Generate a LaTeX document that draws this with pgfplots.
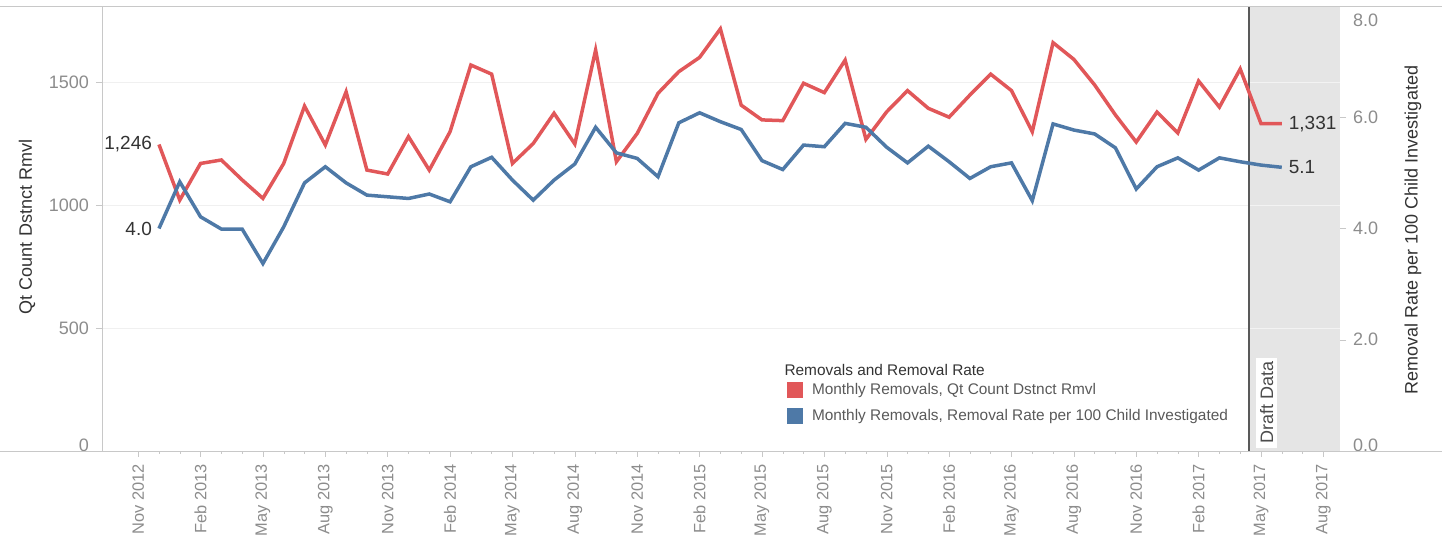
\documentclass[border=0pt]{standalone}
\usepackage{fontspec}
\setmainfont{Liberation Sans}
\usepackage{pgfplots}
\pgfplotsset{compat=1.18}
\usepackage{pgfplotstable}

\definecolor{tred}{HTML}{E15759}
\definecolor{tblue}{HTML}{4E79A7}
\definecolor{tickc}{HTML}{8C8C8C}
\definecolor{labc}{HTML}{333333}
\definecolor{draftc}{HTML}{E5E5E5}
\definecolor{linec}{HTML}{C8C8C8}

\pgfplotstableread{
k r b
0 1246 4.00
1 1020 4.84
2 1169 4.21
3 1183 3.99
4 1102 3.99
5 1027 3.37
6 1169 4.03
7 1402 4.82
8 1244 5.11
9 1460 4.82
10 1142 4.60
11 1126 4.57
12 1278 4.54
13 1142 4.62
14 1298 4.48
15 1569 5.11
16 1532 5.28
17 1169 4.87
18 1250 4.51
19 1373 4.87
20 1248 5.16
21 1630 5.82
22 1176 5.36
23 1291 5.26
24 1454 4.93
25 1542 5.90
26 1600 6.08
27 1716 5.92
28 1406 5.78
29 1346 5.22
30 1343 5.06
31 1495 5.50
32 1457 5.47
33 1589 5.89
34 1267 5.82
35 1379 5.46
36 1465 5.18
37 1393 5.48
38 1357 5.20
39 1447 4.90
40 1532 5.11
41 1465 5.18
42 1298 4.50
43 1660 5.88
44 1592 5.77
45 1488 5.70
46 1366 5.45
47 1256 4.71
48 1378 5.11
49 1293 5.27
50 1504 5.05
51 1398 5.27
52 1553 5.20
53 1331 5.14
54 1331 5.10
}\data

\begin{document}
\begin{tikzpicture}
\path[use as bounding box] (-51pt,-47.5pt) rectangle (670pt,225.5pt);
\begin{axis}[
  at={(0,0)}, anchor=south west, scale only axis,
  width=619pt, height=222.5pt,
  xmin=-2.74, xmax=56.8, ymin=0, ymax=1809,
  clip=false,
  axis x line*=bottom, axis y line*=left,
  axis line style={linec, -},
  xtick={-1,2,...,56},
  xticklabels={Nov 2012,Feb 2013,May 2013,Aug 2013,Nov 2013,Feb 2014,May 2014,Aug 2014,Nov 2014,Feb 2015,May 2015,Aug 2015,Nov 2015,Feb 2016,May 2016,Aug 2016,Nov 2016,Feb 2017,May 2017,Aug 2017},
  minor x tick num=2,
  xticklabel style={rotate=90, anchor=east, font=\fontsize{8.2}{9}\selectfont, text=tickc},
  ytick={0,500,1000,1500},
  scaled y ticks=false,
  /pgf/number format/assume math mode=true,
  /pgf/number format/1000 sep={},
  yticklabel={\ifdim\tick pt<0.5pt\raisebox{3pt}[\height][\depth]{0}\else\pgfmathprintnumber{\tick}\fi},
  yticklabel style={font=\fontsize{9}{10}\selectfont, text=tickc},
  ymajorgrids, grid style={gray!12},
  tick align=outside, tick style={linec},
  major tick length=3pt, minor tick length=1.5pt,
  legend style={at={(rel axis cs:0.553,0.158)}, anchor=north west, draw=none, fill=none,
    inner sep=0pt, row sep=4pt, font=\fontsize{7.7}{9}\selectfont, text=black!65,
    nodes={inner sep=1pt},
    /tikz/every odd column/.append style={column sep=3.5pt}},
  legend cell align=left,
  legend image code/.code={\fill[#1, draw=none] (0pt,-4pt) rectangle (8pt,4pt);},
]
\addplot[fill=draftc, draw=none, forget plot] coordinates {(52.4,1809) (56.8,1809)} \closedcycle;
\addplot[white!55!draftc, line width=0.5pt, forget plot] coordinates {(52.45,500) (56.8,500)};
\addplot[white!55!draftc, line width=0.5pt, forget plot] coordinates {(52.45,1000) (56.8,1000)};
\addplot[white!55!draftc, line width=0.5pt, forget plot] coordinates {(52.45,1500) (56.8,1500)};
\addplot[draw=black!65, line width=1pt, forget plot] coordinates {(52.4,0) (52.4,1809)};
\addplot[tred, line width=1.75pt, forget plot] table[x=k,y=r]{\data};
\addlegendimage{fill=tred}
\addlegendentry{Monthly Removals, Qt Count Dstnct Rmvl}
\addlegendimage{fill=tblue}
\addlegendentry{Monthly Removals, Removal Rate per 100 Child Investigated}
\node[anchor=east, font=\fontsize{9.5}{10}\selectfont, text=labc] at (axis cs:0,1246) {1,246};
\node[anchor=west, font=\fontsize{9.5}{10}\selectfont, text=labc] at (axis cs:54,1331) {1,331};
\node[anchor=west, inner sep=0pt, font=\fontsize{7.7}{9}\selectfont, text=black!80] at (rel axis cs:0.551,0.183) {Removals and Removal Rate};
\node[rotate=90, anchor=west, fill=white, inner sep=2pt, font=\fontsize{9}{10}\selectfont, text=black!70] at (axis cs:53.27,12) {Draft Data};
\end{axis}
\begin{axis}[
  at={(0,0)}, anchor=south west, scale only axis,
  width=619pt, height=222.5pt,
  xmin=-2.74, xmax=56.8, ymin=0, ymax=8,
  clip=false,
  axis x line=none, axis y line*=right,
  axis line style={draw=none},
  ytick={0,2,4,6,8},
  scaled y ticks=false,
  /pgf/number format/assume math mode=true,
  yticklabel={\ifdim\tick pt<0.5pt\raisebox{3pt}[\height][\depth]{0.0}\else\ifdim\tick pt>7.5pt\raisebox{-7pt}[\height][\depth]{8.0}\else\pgfmathprintnumber[fixed,fixed zerofill,precision=1]{\tick}\fi\fi},
  yticklabel style={font=\fontsize{9}{10}\selectfont, text=tickc},
  tick align=outside, tick style={linec}, major tick length=3pt,
]
\addplot[tblue, line width=1.75pt] table[x=k,y=b]{\data};
\node[anchor=east, font=\fontsize{9.5}{10}\selectfont, text=labc] at (axis cs:0,4.0) {4.0};
\node[anchor=west, font=\fontsize{9.5}{10}\selectfont, text=labc] at (axis cs:54,5.1) {5.1};
\end{axis}
\draw[linec] (-51pt,0) -- (670pt,0);
\draw[linec] (-51pt,222.5pt) -- (670pt,222.5pt);
\node[rotate=90, font=\fontsize{9}{10}\selectfont, text=labc] at (-37.5pt,112pt) {Qt Count Dstnct Rmvl};
\node[rotate=90, font=\fontsize{9}{10}\selectfont, text=labc] at (655.5pt,110.5pt) {Removal Rate per 100 Child Investigated};
\end{tikzpicture}
\end{document}
